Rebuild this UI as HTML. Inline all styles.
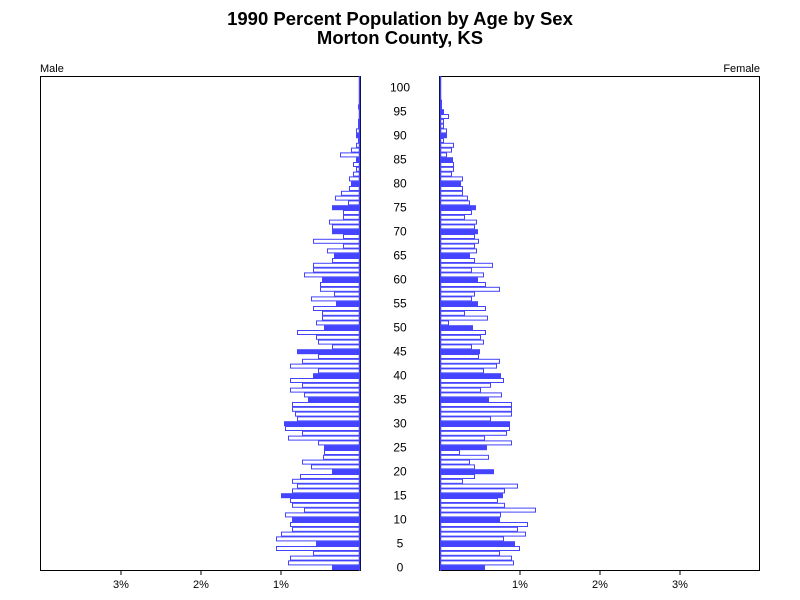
<!DOCTYPE html>
<html><head><meta charset="utf-8"><style>
body{margin:0;background:#fff;}
svg{display:block;font-family:"Liberation Sans",Arial,sans-serif;}
</style></head><body>
<svg id="s" width="800" height="600" xmlns="http://www.w3.org/2000/svg">
<rect width="800" height="600" fill="#fff"/>
<text x="400" y="25" text-anchor="middle" font-size="18.5" font-weight="bold">1990 Percent Population by Age by Sex</text>
<text x="400" y="44" text-anchor="middle" font-size="18.5" font-weight="bold">Morton County, KS</text>
<text x="40" y="72" font-size="11">Male</text>
<text x="760" y="72" font-size="11" text-anchor="end">Female</text>
<g id="bars"></g>
<rect x="40.5" y="76.5" width="320" height="494" fill="none" stroke="#000"/>
<rect x="439.5" y="76.5" width="320" height="494" fill="none" stroke="#000"/>
<line x1="359.5" y1="76" x2="359.5" y2="571" stroke="#4444ff" stroke-width="1.5"/>
<line x1="440.5" y1="76" x2="440.5" y2="571" stroke="#4444ff" stroke-width="1.5"/>
<g id="lab" font-size="12" text-anchor="middle"></g>
<g stroke="#000">
<line x1="121" y1="570" x2="121" y2="575"/><line x1="201" y1="570" x2="201" y2="575"/><line x1="281" y1="570" x2="281" y2="575"/>
<line x1="520" y1="570" x2="520" y2="575"/><line x1="600" y1="570" x2="600" y2="575"/><line x1="680" y1="570" x2="680" y2="575"/>
</g>
<g font-size="11" text-anchor="middle">
<text x="121" y="588">3%</text><text x="201" y="588">2%</text><text x="281" y="588">1%</text>
<text x="520" y="588">1%</text><text x="600" y="588">2%</text><text x="680" y="588">3%</text>
</g>
</svg>
<script>
var M=[28,72,70,47,84,44,84,79,68,70,68,75,56,68,70,79,68,63,68,60,28,49,58,37,36,36,42,72,58,75,76,63,65,68,68,52,56,70,58,70,47,42,70,58,42,63,28,42,44,63,36,44,38,38,47,24,49,26,40,40,38,56,47,47,28,26,33,17,47,17,28,28,31,17,17,28,12,25,19,11,9,11,7,4,7,4,20,9,4,2,4,4,2,2,0,0,2,0,0,0,0];
var F=[44,73,71,59,79,74,63,85,77,87,59,60,95,64,57,62,64,77,22,34,53,34,29,48,19,46,71,44,66,69,69,50,71,71,71,48,61,40,50,63,60,43,56,59,38,39,31,43,40,45,32,8,47,24,45,37,31,34,59,45,37,43,31,52,34,29,36,34,38,34,37,34,36,24,31,35,29,27,22,22,20,22,11,13,13,12,6,11,13,3,6,6,3,3,8,3,1,1,0,0,0];
var g=document.getElementById('bars'),h='';
for(var a=0;a<=100;a++){
 var y=570-(a+1)*4.8, f=(a%5==0);
 var st=f?'fill="#4444ff" stroke="#4444ff"':'fill="#fff" stroke="#4444ff"';
 if(M[a]>0)h+='<rect x="'+(360-M[a]+0.5)+'" y="'+(y+0.5)+'" width="'+M[a]+'" height="4" '+st+'/>';
 if(F[a]>0)h+='<rect x="440.5" y="'+(y+0.5)+'" width="'+F[a]+'" height="4" '+st+'/>';
}
g.innerHTML=h;
var l='';for(var a=0;a<=100;a+=5){l+='<text x="400" y="'+(570-(a+0.5)*4.8+4)+'">'+a+'</text>';}
document.getElementById('lab').innerHTML=l;
</script>
</body></html>
